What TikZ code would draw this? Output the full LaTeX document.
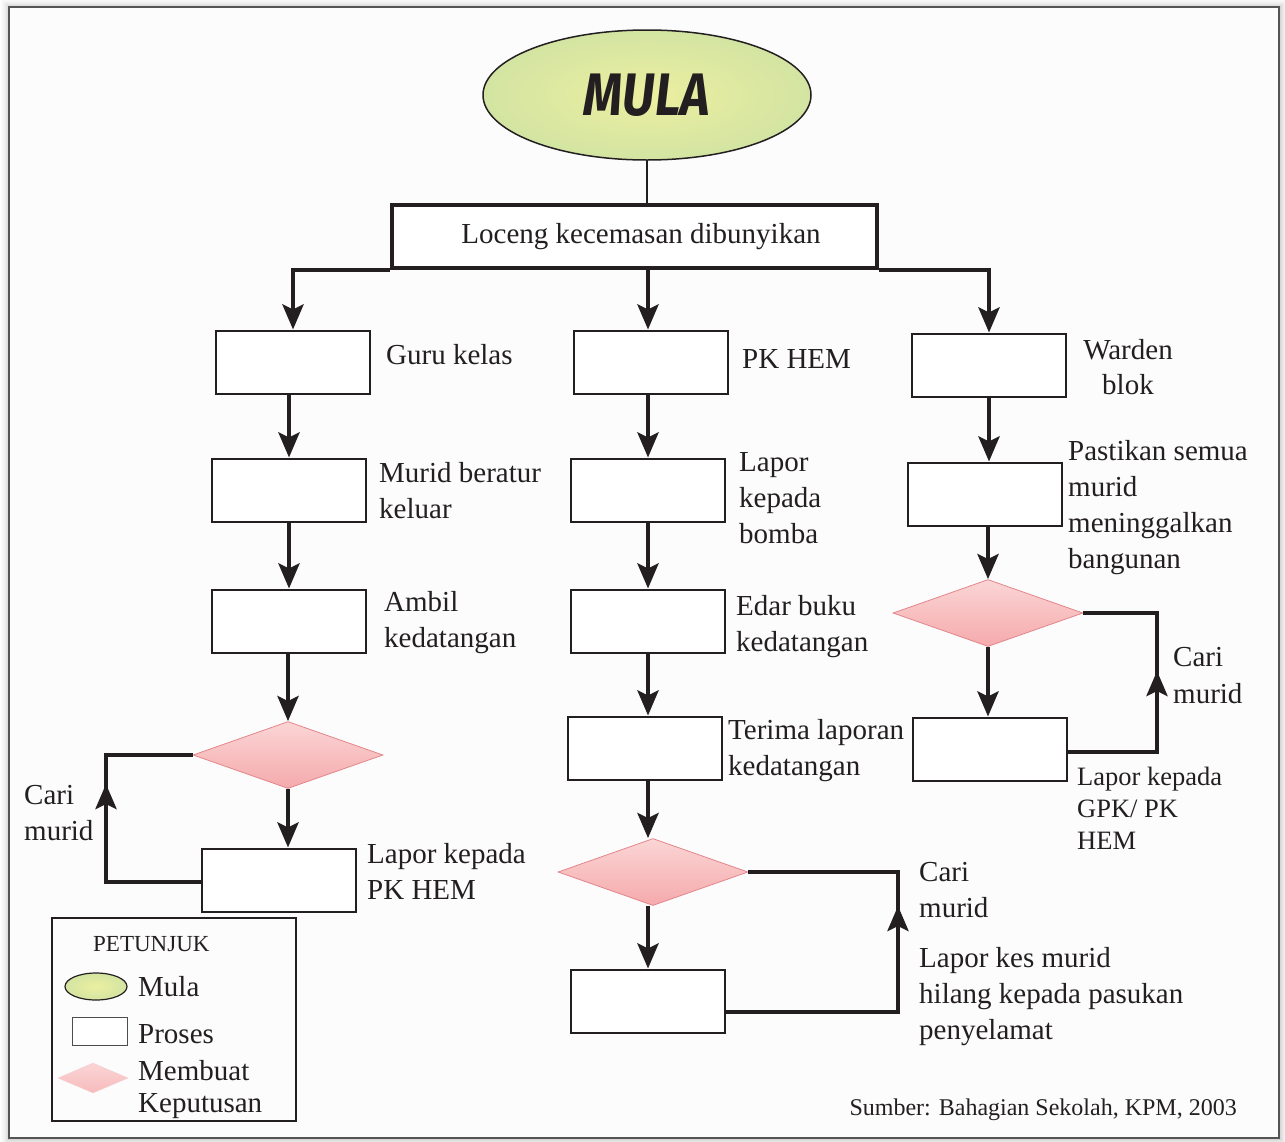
\documentclass[tikz,border=0pt]{standalone}
\usepackage{fontspec}
\usepackage{graphicx}
\setmainfont{Liberation Serif}
\newfontfamily\mulafont{Fira Sans}
\usetikzlibrary{shapes.geometric,arrows.meta,decorations.markings}
\definecolor{txt}{HTML}{231F20}
\definecolor{dtop}{HTML}{FBD5D5}
\definecolor{dbot}{HTML}{F5AAAC}
\definecolor{dborder}{HTML}{E3868B}
\definecolor{mulain}{HTML}{ECEFA0}
\definecolor{mulaout}{HTML}{D3E4A2}
\definecolor{paper}{HTML}{FCFCFC}
\definecolor{framec}{HTML}{555555}
\begin{document}
\begin{tikzpicture}[x=1pt,y=-1pt,
  every node/.style={text=txt},
  body/.style={font=\fontsize{29}{36}\selectfont},
  proc/.style={draw=txt, line width=2pt, fill=white, minimum width=154pt, minimum height=63pt, inner sep=0pt},
  dec/.style={diamond, draw=dborder, line width=0.8pt, top color=dtop, bottom color=dbot, inner sep=0pt, aspect=2.8, minimum width=190pt, minimum height=67pt},
  tipshape/.style={-{Stealth[length=25pt,width=21pt,inset=5pt]}},
  flow/.style={line width=4.3pt, draw=txt, tipshape},
  loopline/.style={line width=4.3pt, draw=txt},
  lbl/.style={body, anchor=north west, align=left, inner sep=0pt, execute at begin node=\strut},
]
\useasboundingbox (0,0) rectangle (1285,1141);
% frame with soft shadow
\foreach \i/\o in {1/0.16,2/0.13,3/0.10,4/0.08,5/0.06,6/0.04,7/0.03,8/0.02}{
  \draw[line width=1pt, black, opacity=\o] (9-\i,7-\i) rectangle (1279+\i,1138+\i);
}
\draw[fill=paper, draw=framec, line width=2pt] (9,7) rectangle (1279,1138);

% start
\node[ellipse, draw=txt, line width=1.5pt, inner color=mulain, outer color=mulaout,
      minimum width=328pt, minimum height=130pt, inner sep=0pt] (start) at (647,95)
      {\scalebox{0.84}[1]{\fontsize{60}{62}\selectfont\mulafont\bfseries\itshape MULA}};

% bell box
\node[draw=txt, line width=4.3pt, fill=white, minimum width=485pt, minimum height=63pt,
      inner sep=0pt, body] (bell) at (634.5,236.5) {\raisebox{-4pt}{\hspace{13pt}Loceng kecemasan dibunyikan}};
\draw[line width=1.3pt, txt] (start.south) -- (start.south |- bell.north);

% column 1
\node[proc] (g1) at (293,362) {};
\node[proc] (g2) at (289,490) {};
\node[proc] (g3) at (289,621) {};
\node[dec]  (d1) at (288,755) {};
\node[proc] (g4) at (279,880) {};
% column 2
\node[proc] (p1) at (651,362) {};
\node[proc] (p2) at (648,490) {};
\node[proc] (p3) at (648,621) {};
\node[proc] (p4) at (645,748) {};
\node[dec]  (d2) at (653,872) {};
\node[proc] (p5) at (648,1001) {};
% column 3
\node[proc] (w1) at (989,365) {};
\node[proc] (w2) at (985,494) {};
\node[dec]  (d3) at (988,613) {};
\node[proc] (w3) at (990,749) {};

% bus and top arrows
\draw[flow] (bell.south west) -| (g1.north);
\draw[flow] (bell.south east) -| (w1.north);
\draw[flow] (bell.south -| p2.north) -- (p1.north -| p2.north);

% column 1 arrows
\draw[flow] (g2.north |- g1.south) -- (g2.north);
\draw[flow] (g2.south) -- (g3.north);
\draw[flow] (g3.south -| d1.north) -- (d1.north);
\draw[flow] (d1.south) -- (d1.south |- g4.north);
% column 2 arrows
\draw[flow] (p2.north |- p1.south) -- (p2.north);
\draw[flow] (p2.south) -- (p3.north);
\draw[flow] (p3.south) -- (p3.south |- p4.north);
\draw[flow] (p3.south |- p4.south) -- (p3.south |- d2.north);
\draw[flow] (p3.south |- d2.south) -- (p3.south |- p5.north);
% column 3 arrows
\draw[flow] (w1.south) -- (w1.south |- w2.north);
\draw[flow] (d3.north |- w2.south) -- (d3.north);
\draw[flow] (d3.south) -- (d3.south |- w3.north);

% loops
\coordinate (L1) at (106,882);
\coordinate (L2) at (898,1012);
\coordinate (L3) at (1157,752);
\draw[loopline, postaction={decorate}, decoration={markings, mark=at position 193pt with {\arrow[line width=4.3pt]{Stealth[length=25pt,width=21pt,inset=5pt]}}}]
  ([yshift=-2pt]g4.west) -- (L1) |- (d1.west);
\draw[loopline, postaction={decorate}, decoration={markings, mark=at position 278pt with {\arrow[line width=4.3pt]{Stealth[length=25pt,width=21pt,inset=5pt]}}}]
  ([yshift=-11pt]p5.east) -- (L2) |- (d2.east);
\draw[loopline, postaction={decorate}, decoration={markings, mark=at position 170pt with {\arrow[line width=4.3pt]{Stealth[length=25pt,width=21pt,inset=5pt]}}}]
  ([yshift=-3pt]w3.east) -- (L3) |- (d3.east);

% labels column 1
\node[lbl] (t1) at (386,339.5) {Guru kelas};
\node[lbl] (t2) at (379,462.5) {Murid beratur\\keluar};
\node[lbl] (t3) at (384,591.5) {Ambil\\kedatangan};
\node[lbl] (t4) at (367,843.5) {Lapor kepada\\PK HEM};
\node[lbl] (t5) at (24,785) {Cari\\murid};
% labels column 2
\node[lbl] (t6) at (742,343.5) {PK HEM};
\node[lbl] (t7) at (739,452.5) {Lapor\\kepada\\bomba};
\node[lbl] (t8) at (736,595) {Edar buku\\kedatangan};
\node[lbl] (t9) at (728,719) {Terima laporan\\kedatangan};
\node[lbl] (t10) at (919,862) {Cari\\murid};
\node[lbl] (t11) at (919,947.5) {Lapor kes murid\\hilang kepada pasukan\\penyelamat};
% labels column 3
\node[lbl, anchor=north, align=center, font=\fontsize{29}{35}\selectfont] (t12) at (1128,339.5) {Warden\\blok};
\node[lbl] (t13) at (1068,440.5) {Pastikan semua\\murid\\meninggalkan\\bangunan};
\node[lbl, font=\fontsize{29}{37}\selectfont] (t14) at (1173,647) {Cari\\murid};
\node[lbl, font=\fontsize{26.5}{32}\selectfont] (t15) at (1077,766.6) {Lapor kepada\\GPK/ PK\\HEM};

% legend
\node[draw=txt, line width=1.5pt, minimum width=244pt, minimum height=203pt, inner sep=0pt] (legend) at (174,1019.5) {};
\node[lbl, font=\fontsize{23}{28}\selectfont] (lt) at (93,931.4) {PETUNJUK};
\node[ellipse, draw=txt, line width=1.2pt, inner color=mulain, outer color=mulaout,
      minimum width=62pt, minimum height=27pt, inner sep=0pt] (le) at (96,986.5) {};
\node[lbl] (lm) at (138,971.5) {Mula};
\node[draw=txt!80, line width=1pt, fill=white, minimum width=55pt, minimum height=28pt, inner sep=0pt] (lr) at (99.5,1031) {};
\node[lbl] (lp) at (138,1018.5) {Proses};
\node[diamond, draw=dborder!40, line width=0.4pt, top color=dtop, bottom color=dbot!80, inner sep=0pt, aspect=2.3,
      minimum width=70pt, minimum height=30pt] (ld) at (93,1078) {};
\node[lbl, font=\fontsize{29}{32}\selectfont] (lk) at (138,1060.5) {Membuat\\Keputusan};

% source
\node[lbl, anchor=north east, font=\fontsize{24}{29}\selectfont] (src) at (1237,1094.7) {Sumber: Bahagian Sekolah, KPM, 2003};
\end{tikzpicture}
\end{document}
